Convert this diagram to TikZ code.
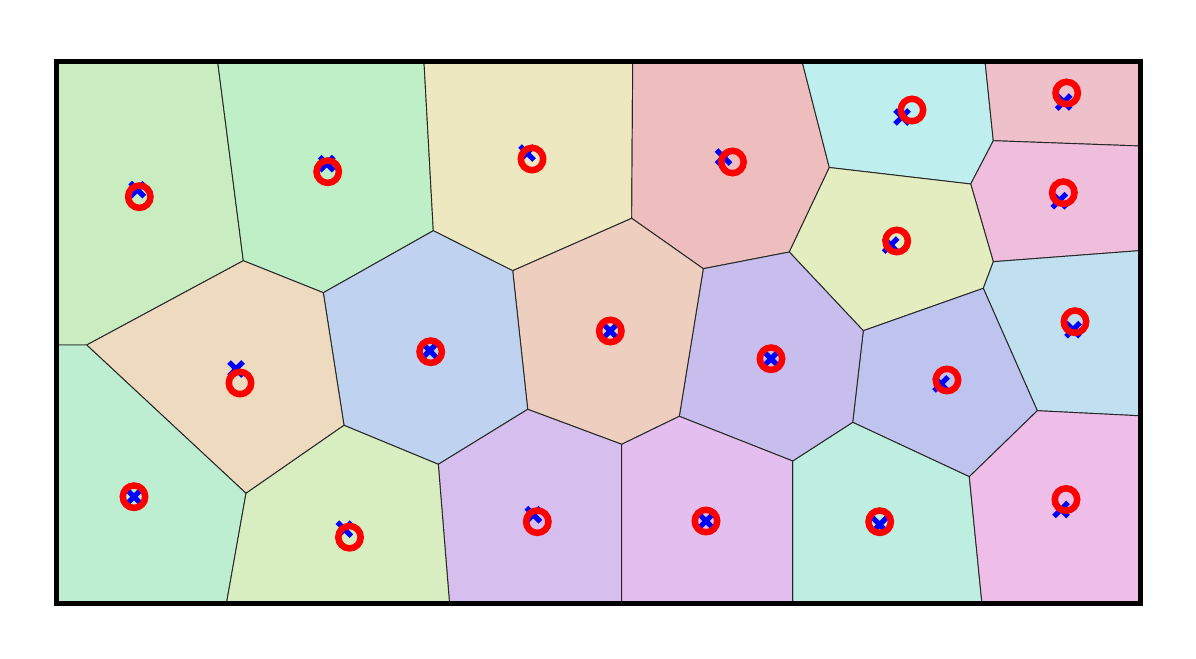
\documentclass[tikz,border=0pt]{standalone}
\definecolor{cA}{HTML}{C9EDC0}
\definecolor{cB}{HTML}{BEEFC6}
\definecolor{cC}{HTML}{EEE8C0}
\definecolor{cD}{HTML}{EEBEBE}
\definecolor{cE}{HTML}{BEEEEE}
\definecolor{cF}{HTML}{EEC0CA}
\definecolor{cG}{HTML}{EEBEDC}
\definecolor{cH}{HTML}{E4EDC0}
\definecolor{cI}{HTML}{C0E0EF}
\definecolor{cJ}{HTML}{BEC4EE}
\definecolor{cK}{HTML}{BEEEDF}
\definecolor{cL}{HTML}{EEBEE8}
\definecolor{cM}{HTML}{C7BEEE}
\definecolor{cN}{HTML}{EECEBE}
\definecolor{cO}{HTML}{BFD2EF}
\definecolor{cP}{HTML}{D6BFEE}
\definecolor{cQ}{HTML}{E4BEEE}
\definecolor{cR}{HTML}{EEDABE}
\definecolor{cS}{HTML}{BEEED2}
\definecolor{cT}{HTML}{D8EDC0}
\begin{document}
\begin{tikzpicture}[x=0.75pt,y=-0.75pt,
  cell/.style={draw=black!85, line width=0.7pt, line join=round},
  ring/.style={draw=red, line width=4.9pt},
  xmark/.style={draw=blue, line width=3.9pt},
  frameline/.style={draw=black, line width=3.75pt}]
\useasboundingbox (0,0) rectangle (1196,659);
% frame corners
\coordinate (tl) at (56,62);
\coordinate (tr) at (1140,62);
\coordinate (br) at (1140,603);
\coordinate (bl) at (56,603);
% vertices
\coordinate (v1) at (217.7,62);
\coordinate (v2) at (243.3,260.7);
\coordinate (v3) at (424,62);
\coordinate (v4) at (433.3,230.7);
\coordinate (v5) at (323.3,292.7);
\coordinate (v6) at (56,345);
\coordinate (v7) at (86.7,345);
\coordinate (v8) at (246,493.3);
\coordinate (v9) at (344,425.3);
\coordinate (v10) at (226.5,603);
\coordinate (v11) at (438.3,464.3);
\coordinate (v12) at (449.5,603);
\coordinate (v13) at (527.7,409.3);
\coordinate (v14) at (512.7,270.7);
\coordinate (v15) at (621.7,444.3);
\coordinate (v16) at (621.7,603);
\coordinate (v17) at (679.3,416.3);
\coordinate (v18) at (703.3,268.7);
\coordinate (v19) at (631.7,218.3);
\coordinate (v20) at (632.7,62);
\coordinate (v21) at (792.7,461);
\coordinate (v22) at (792.7,603);
\coordinate (v23) at (789.3,252);
\coordinate (v24) at (829.3,167.5);
\coordinate (v25) at (802.2,62);
\coordinate (v26) at (970.7,184);
\coordinate (v27) at (993.3,140.7);
\coordinate (v28) at (985.1,62);
\coordinate (v29) at (1140,146);
\coordinate (v30) at (993.3,261.7);
\coordinate (v31) at (1140,250.6);
\coordinate (v32) at (983.3,288.3);
\coordinate (v33) at (863.3,330.7);
\coordinate (v34) at (852.7,422.3);
\coordinate (v35) at (969.3,476.7);
\coordinate (v36) at (981.9,603);
\coordinate (v37) at (1037.3,410.7);
\coordinate (v38) at (1140,415.8);
% cells
\path[cell, fill=cA] (tl) -- (v1) -- (v2) -- (v7) -- (v6) -- cycle;
\path[cell, fill=cB] (v1) -- (v3) -- (v4) -- (v5) -- (v2) -- cycle;
\path[cell, fill=cC] (v3) -- (v20) -- (v19) -- (v14) -- (v4) -- cycle;
\path[cell, fill=cD] (v20) -- (v25) -- (v24) -- (v23) -- (v18) -- (v19) -- cycle;
\path[cell, fill=cE] (v25) -- (v28) -- (v27) -- (v26) -- (v24) -- cycle;
\path[cell, fill=cF] (v28) -- (tr) -- (v29) -- (v27) -- cycle;
\path[cell, fill=cG] (v27) -- (v29) -- (v31) -- (v30) -- (v26) -- cycle;
\path[cell, fill=cH] (v23) -- (v24) -- (v26) -- (v30) -- (v32) -- (v33) -- cycle;
\path[cell, fill=cI] (v30) -- (v31) -- (v38) -- (v37) -- (v32) -- cycle;
\path[cell, fill=cJ] (v33) -- (v32) -- (v37) -- (v35) -- (v34) -- cycle;
\path[cell, fill=cK] (v34) -- (v35) -- (v36) -- (v22) -- (v21) -- cycle;
\path[cell, fill=cL] (v35) -- (v37) -- (v38) -- (br) -- (v36) -- cycle;
\path[cell, fill=cM] (v18) -- (v23) -- (v33) -- (v34) -- (v21) -- (v17) -- cycle;
\path[cell, fill=cN] (v14) -- (v19) -- (v18) -- (v17) -- (v15) -- (v13) -- cycle;
\path[cell, fill=cO] (v4) -- (v14) -- (v13) -- (v11) -- (v9) -- (v5) -- cycle;
\path[cell, fill=cP] (v11) -- (v13) -- (v15) -- (v16) -- (v12) -- cycle;
\path[cell, fill=cQ] (v15) -- (v17) -- (v21) -- (v22) -- (v16) -- cycle;
\path[cell, fill=cR] (v7) -- (v2) -- (v5) -- (v9) -- (v8) -- cycle;
\path[cell, fill=cS] (v6) -- (v7) -- (v8) -- (v10) -- (bl) -- cycle;
\path[cell, fill=cT] (v8) -- (v9) -- (v11) -- (v12) -- (v10) -- cycle;
% sites and markers
\foreach \n/\sx/\sy/\dx/\dy in {
  A/139.3/196.7/-2/-7, B/327.7/171.7/-1/-8, C/532/159/-5/-6,
  D/732.5/162/-9/-5, E/912/110/-10/7, F/1066.7/93/-3/9,
  G/1063.3/192.7/-4/8, H/896.7/241/-6/4, I/1075/321.7/-2/8,
  J/947/380/-6/4, K/879.7/521.7/0/3, L/1066/499.5/-5/10,
  M/771/358.7/0/0, N/610.3/331/0/0, O/430.7/351.7/-1/-1,
  P/537.3/521.7/-4/-7, Q/706/521/0/0, R/240/383/-4/-14,
  S/134/496.7/0/0, T/349.5/537.2/-5/-8} {
  \coordinate (s\n) at (\sx,\sy);
  \coordinate (x\n) at (\sx+\dx,\sy+\dy);
  \draw[xmark] (x\n) ++(-7,-7) -- ++(14,14) ++(0,-14) -- ++(-14,14);
  \draw[ring] (s\n) circle[radius=8.4pt];
}
% frame
\draw[frameline] (tl) rectangle (br);
\end{tikzpicture}
\end{document}
